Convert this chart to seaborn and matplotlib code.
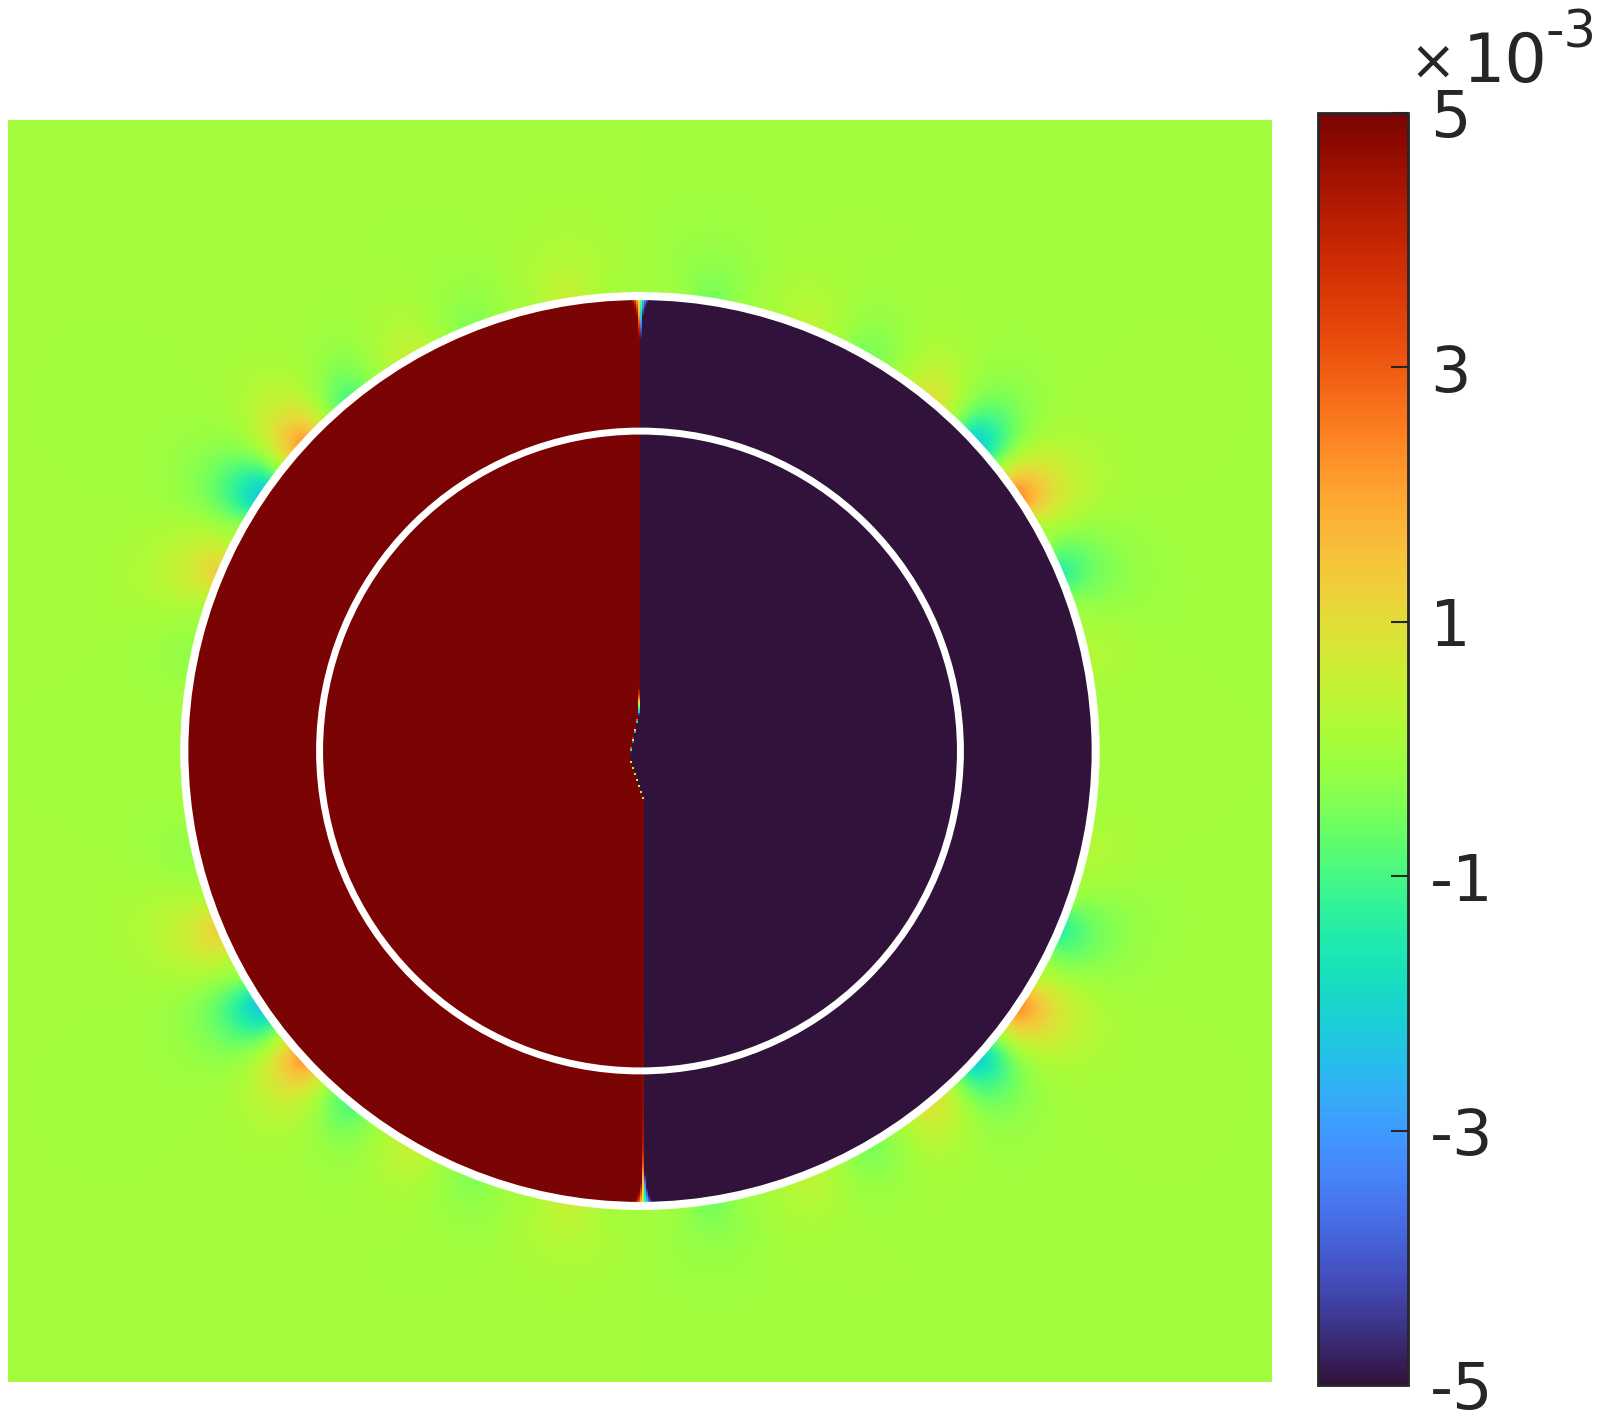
import numpy as np
import matplotlib
matplotlib.use('Agg')
import matplotlib.pyplot as plt
from matplotlib.patches import Circle
import seaborn as sns

# model geometry, domain [-1, 1] x [-1, 1]
n_grid = 632
r_outer = 0.721
r_inner = 0.507

# split line between the +5e-3 (left) and -5e-3 (right) halves: x offset vs height
split_y = [-0.73, -0.0775, -0.0095, 0.060, 0.12, 0.73]
split_x = [0.0055, 0.0059, -0.0168, -0.002, 0.0, 0.0]

# disturbances just outside the outer circle (upper right quadrant, mirrored)
# angle in degrees, amplitude in units of 1e-3
blob_angle = [12, 23, 34, 42.5, 50.5, 60, 68.5, 81]
blob_amp = [0.25, -1.4, 2.5, -2.3, 1.0, -0.55, 0.45, -0.6]

cbar_ticks = [-5, -3, -1, 1, 3, 5]
cbar_labels = ['-5', '-3', '-1', '1', '3', '5']

# field on the grid (row 0 = top)
x = np.linspace(-1, 1, n_grid, endpoint=False) + 1.0 / n_grid
y = x[::-1]
X, Y = np.meshgrid(x, y)
r = np.hypot(X, Y)
theta = np.arctan2(Y, X)

field = np.zeros_like(X)
d = np.clip(r - r_outer, 0, None)
for ang, amp in zip(blob_angle, blob_amp):
    for a_deg, s in [(ang, 1), (-ang, 1), (180 - ang, -1), (180 + ang, -1)]:
        dth = np.angle(np.exp(1j * (theta - np.radians(a_deg))))
        width = 0.05 + 0.8 * d
        field += s * amp * np.exp(-(dth / width) ** 2) * np.exp(-d / 0.07)

xb = np.interp(Y, split_y, split_x)
eps = 0.0008 + 0.016 * np.exp(-(r_outer - r) / 0.02)
inside_val = np.clip(-6 * np.tanh((X - xb) / eps), -5, 5)
field = np.where(r < r_outer, inside_val, field)

plt.rcParams['font.family'] = ['DejaVu Sans']
plt.rcParams['axes.unicode_minus'] = False

W, H = 1602, 1417
fig = plt.figure(figsize=(W / 100, H / 100), dpi=100)
ax = fig.add_axes([8 / W, 1 - 1382 / H, 1264 / W, 1262 / H])
cax = fig.add_axes([1318 / W, 1 - 1385 / H, 90 / W, 1272 / H])

sns.heatmap(field, ax=ax, cbar_ax=cax, cmap='turbo', vmin=-5, vmax=5,
            xticklabels=False, yticklabels=False, square=False,
            cbar_kws={'ticks': cbar_ticks})

c = n_grid / 2
ax.add_patch(Circle((c, c), r_outer * n_grid / 2, fill=False, ec='white', lw=5.8))
ax.add_patch(Circle((c, c), r_inner * n_grid / 2, fill=False, ec='white', lw=5.0))
ax.set_xlim(0, n_grid)
ax.set_ylim(n_grid, 0)

cbar = ax.collections[0].colorbar
cbar.outline.set_linewidth(2)
cbar.outline.set_edgecolor('#262626')
cax.set_yticks(cbar_ticks)
cax.set_yticklabels(cbar_labels)
cax.tick_params(direction='in', length=12, width=1.5, labelsize=46,
                colors='#262626', pad=16)

# exponent label
fig.text(1433 / W, 1 - 64 / H, '\u00d7', fontsize=40, color='#262626',
         ha='center', va='center')
fig.text(1463 / W, 1 - 82 / H, '10', fontsize=48, color='#262626',
         ha='left', va='baseline')
fig.text(1545 / W, 1 - 48 / H, '-3', fontsize=37, color='#262626',
         ha='left', va='baseline')

fig.savefig('out.png', dpi=100)
